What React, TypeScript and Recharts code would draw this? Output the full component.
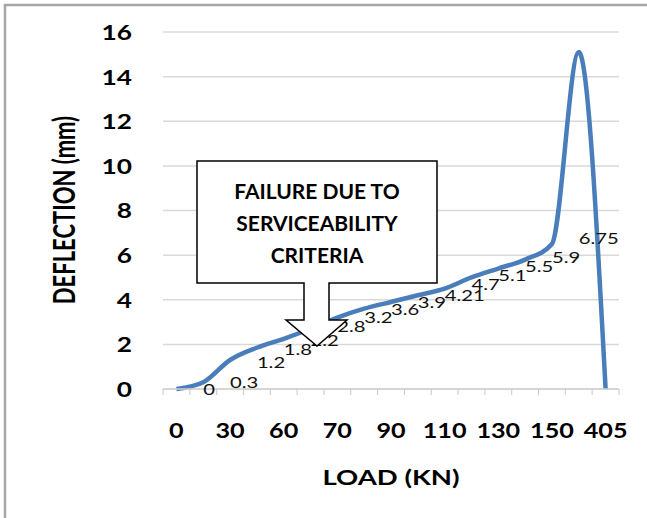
import React from "react";
import {
  CartesianGrid,
  LabelList,
  Line,
  LineChart,
  XAxis,
  YAxis,
} from "recharts";

// categories on the load axis (Excel only printed every other one)
const loadLabels = [
  "0", "", "30", "", "60", "", "70", "", "90", "", "110", "", "130", "", "150", "", "405",
];

// plotted deflection curve (mm)
const deflection = [0, 0.3, 1.3, 1.85, 2.25, 2.7, 3.2, 3.6, 3.9, 4.2, 4.5, 5.0, 5.4, 5.8, 6.5, 15.1, 0];

// the value labels written along the curve
const labelValues = [null, 0, 0.3, 1.2, 1.8, 2.2, 2.8, 3.2, 3.6, 3.9, 4.21, 4.7, 5.1, 5.5, 5.9, 6.75, null];

const yTicks = [0, 2, 4, 6, 8, 10, 12, 14, 16];

const FONT = "Lato, 'Open Sans', sans-serif";

const rows = loadLabels.map((load, i) => ({
  x: i,
  load,
  deflection: deflection[i],
  labelValue: labelValues[i],
}));

// tick positions: boundaries between categories get a tick mark, categories get labels
const xTicks: number[] = [];
for (let i = 0; i < loadLabels.length; i++) {
  xTicks.push(i - 0.5);
  xTicks.push(i);
}
xTicks.push(loadLabels.length - 0.5);

function XTick(props: any) {
  const { x, y, payload } = props;
  const v = payload.value as number;
  if (!Number.isInteger(v)) {
    return <line x1={x} x2={x} y1={y} y2={y + 6} stroke="#C8C8C8" strokeWidth={1} />;
  }
  const text = loadLabels[v];
  if (!text) return null;
  return (
    <text
      transform={`translate(${x} ${y + 41}) scale(1.2 1)`}
      textAnchor="middle"
      dominantBaseline="central"
      fontFamily={FONT}
      fontWeight={700}
      fontSize={21}
      fill="#000"
    >
      {text}
    </text>
  );
}

function YTick(props: any) {
  const { x, y, payload } = props;
  return (
    <text
      transform={`translate(${x} ${y}) scale(1.25 1)`}
      textAnchor="end"
      dominantBaseline="central"
      fontFamily={FONT}
      fontWeight={700}
      fontSize={21}
      fill="#000"
    >
      {payload.value}
    </text>
  );
}

function PointLabel(props: any) {
  const { x, y, value } = props;
  if (value === null || value === undefined) return null;
  return (
    <text
      transform={`translate(${x} ${y}) scale(1.35 1)`}
      textAnchor="start"
      dominantBaseline="central"
      fontFamily={FONT}
      fontSize={15}
      fill="#111"
    >
      {String(value)}
    </text>
  );
}

function Callout() {
  return (
    <g>
      <path
        d="M197,161 H437 V283 H329 V320 H347 L317,346 L286,320 H304 V283 H197 Z"
        fill="#fff"
        stroke="#000"
        strokeWidth={1.5}
      />
      {["FAILURE DUE TO", "SERVICEABILITY", "CRITERIA"].map((t, i) => (
        <text
          key={t}
          x={317}
          y={190 + i * 32}
          textAnchor="middle"
          dominantBaseline="central"
          fontFamily={FONT}
          fontWeight={700}
          fontSize={21}
          fill="#000"
        >
          {t}
        </text>
      ))}
    </g>
  );
}

export default function App() {
  return (
    <div
      style={{
        position: "absolute",
        left: 0,
        top: 0,
        width: 647,
        height: 518,
        background: "#fff",
        overflow: "hidden",
      }}
    >
      <LineChart
        width={647}
        height={518}
        data={rows}
        margin={{ top: 32, right: 28, left: 0, bottom: 0 }}
      >
        <CartesianGrid vertical={false} stroke="#D9D9D9" strokeWidth={1.5} />
        <XAxis
          dataKey="x"
          type="number"
          domain={[-0.5, 16.5]}
          ticks={xTicks}
          interval={0}
          height={129}
          tickLine={false}
          tickSize={0}
          tickMargin={0}
          axisLine={{ stroke: "#D0D0D0", strokeWidth: 1.5 }}
          tick={(p: any) => <XTick {...p} />}
        />
        <YAxis
          domain={[0, 16]}
          ticks={yTicks}
          width={163}
          axisLine={false}
          tickLine={false}
          tickSize={0}
          tickMargin={31}
          tick={(p: any) => <YTick {...p} />}
        />
        <Line
          type="monotone"
          dataKey="deflection"
          stroke="#4A7EBB"
          strokeWidth={4.5}
          dot={false}
          activeDot={false}
          isAnimationActive={false}
        />
        <Line
          dataKey="labelValue"
          stroke="none"
          dot={false}
          activeDot={false}
          isAnimationActive={false}
        >
          <LabelList dataKey="labelValue" content={(p: any) => <PointLabel {...p} />} />
        </Line>
      </LineChart>

      <svg
        width={647}
        height={518}
        style={{ position: "absolute", left: 0, top: 0, pointerEvents: "none" }}
      >
        <path d="M5,518 V5 H647" fill="none" stroke="#A6A6A6" strokeWidth={2.5} />
        <text
          transform="translate(64 210) scale(1.35 1) rotate(-90)"
          textAnchor="middle"
          dominantBaseline="central"
          fontFamily={FONT}
          fontWeight={700}
          fontSize={22}
          fill="#000"
        >
          DEFLECTION (mm)
        </text>
        <text
          transform="translate(391 477) scale(1.31 1)"
          textAnchor="middle"
          dominantBaseline="central"
          fontFamily={FONT}
          fontWeight={700}
          fontSize={21}
          fill="#000"
        >
          LOAD (KN)
        </text>
        <Callout />
      </svg>
    </div>
  );
}
